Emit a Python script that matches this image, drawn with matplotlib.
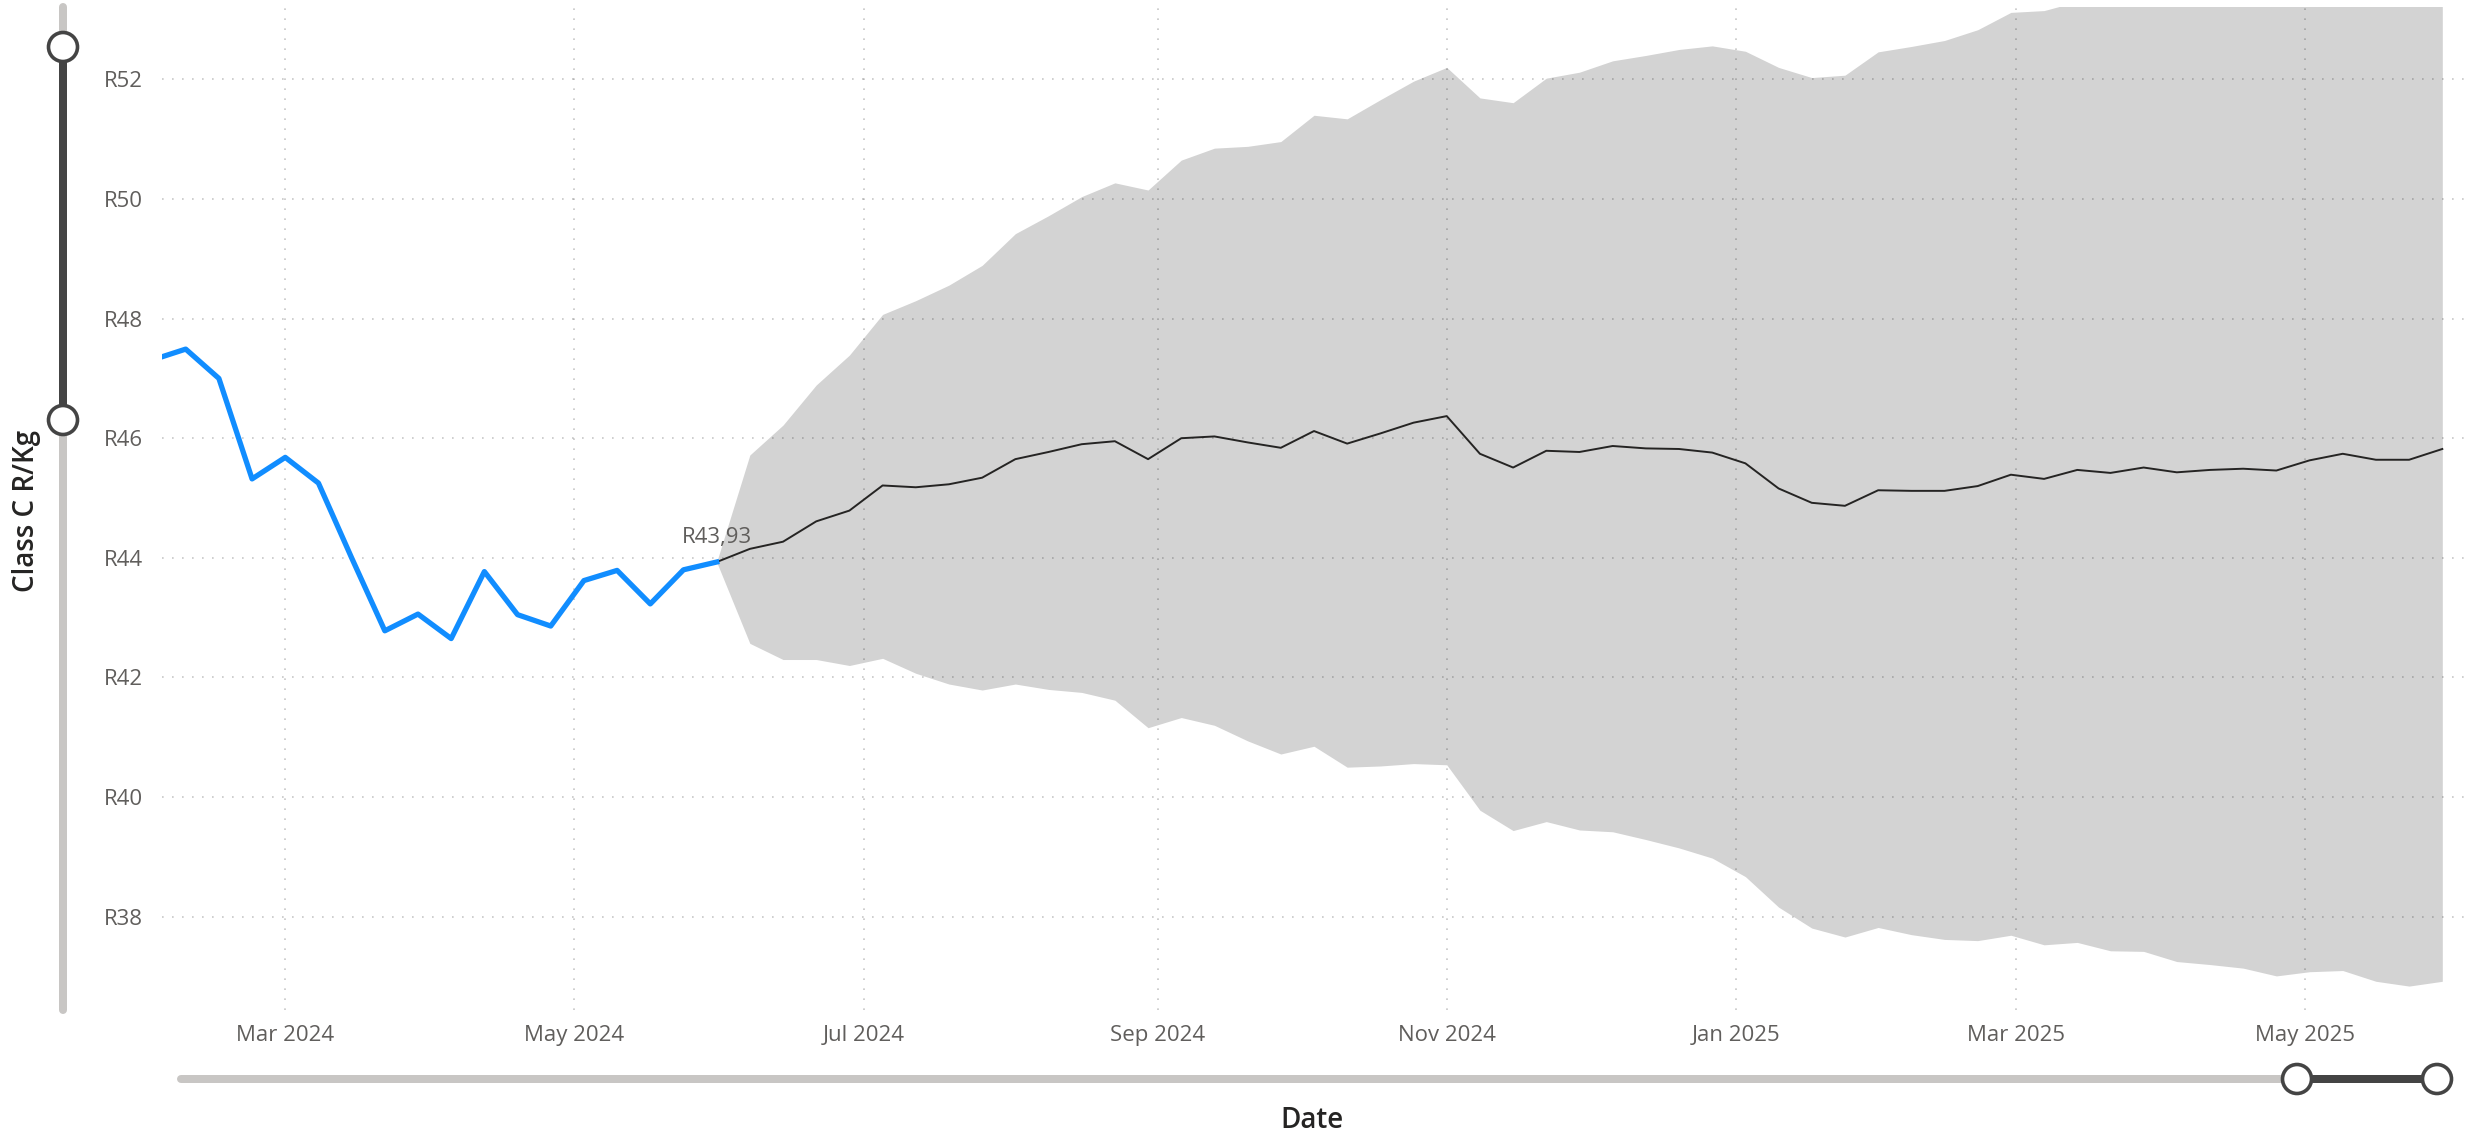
import numpy as np
import pandas as pd
import matplotlib
matplotlib.use("Agg")
import matplotlib.pyplot as plt
from matplotlib.patches import Circle

plt.rcParams['font.family'] = ['Open Sans', 'DejaVu Sans']

# weekly actual price, Class C R/Kg
actual_start = "2024-02-02"
actual = [47.31, 47.49, 47.00, 45.32, 45.68, 45.25, 44.00, 42.78, 43.06, 42.65,
          43.77, 43.05, 42.86, 43.62, 43.79, 43.23, 43.80, 43.93]

# weekly forecast with confidence band
forecast_start = "2024-05-31"
forecast = [43.93, 44.15, 44.27, 44.61, 44.79, 45.21, 45.18, 45.23, 45.34, 45.65,
            45.77, 45.90, 45.95, 45.65, 46.00, 46.03, 45.93, 45.84, 46.12, 45.91,
            46.08, 46.26, 46.37, 45.74, 45.51, 45.79, 45.77, 45.87, 45.83, 45.82,
            45.76, 45.58, 45.16, 44.92, 44.87, 45.13, 45.12, 45.12, 45.20, 45.39,
            45.32, 45.47, 45.42, 45.51, 45.43, 45.47, 45.49, 45.46, 45.63, 45.74,
            45.64, 45.64, 45.82]
upper = [43.93, 45.72, 46.22, 46.89, 47.39, 48.07, 48.30, 48.56, 48.89, 49.42,
         49.72, 50.04, 50.27, 50.15, 50.65, 50.85, 50.88, 50.96, 51.40, 51.34,
         51.66, 51.97, 52.20, 51.69, 51.61, 52.02, 52.12, 52.31, 52.40, 52.50,
         52.56, 52.47, 52.20, 52.03, 52.07, 52.46, 52.55, 52.65, 52.83, 53.12,
         53.15, 53.30, 53.38, 53.45, 53.50, 53.58, 53.62, 53.70, 53.76, 53.82,
         53.90, 53.96, 54.02]
lower = [43.93, 42.57, 42.30, 42.30, 42.20, 42.32, 42.07, 41.89, 41.79, 41.89,
         41.80, 41.75, 41.62, 41.16, 41.33, 41.20, 40.94, 40.72, 40.85, 40.50,
         40.52, 40.56, 40.54, 39.78, 39.44, 39.59, 39.45, 39.42, 39.29, 39.15,
         38.98, 38.67, 38.16, 37.81, 37.66, 37.82, 37.70, 37.62, 37.60, 37.69,
         37.53, 37.57, 37.43, 37.42, 37.25, 37.20, 37.14, 37.01, 37.08, 37.10,
         36.92, 36.84, 36.92]

x_ticks = ["2024-03-01", "2024-05-01", "2024-07-01", "2024-09-01",
           "2024-11-01", "2025-01-01", "2025-03-01", "2025-05-01"]
y_ticks = [38, 40, 42, 44, 46, 48, 50, 52]

actual_dates = pd.date_range(actual_start, periods=len(actual), freq="7D")
fc_dates = pd.date_range(forecast_start, periods=len(forecast), freq="7D")

W, H = 2471, 1134
fig = plt.figure(figsize=(W / 100, H / 100), dpi=100)
ax = fig.add_axes([162 / W, 1 - 1010 / H, (2466 - 162) / W, (1010 - 7) / H])

ax.fill_between(fc_dates, lower, upper, color="#D3D3D3", lw=0, zorder=0.2)
ax.plot(fc_dates, forecast, color="#252423", lw=1.4, zorder=2)
ax.plot(actual_dates, actual, color="#118DFF", lw=3.8,
        solid_joinstyle="round", zorder=3)
ax.annotate(f"R{actual[-1]:.2f}".replace(".", ","), (actual_dates[-1], actual[-1]),
            xytext=(0, 10), textcoords="offset points", ha="center", va="bottom",
            fontsize=16, color="#605E5C")

ax.set_xlim(pd.Timestamp("2024-02-04"), pd.Timestamp("2025-06-04"))
ax.set_ylim(36.44, 53.21)
ax.set_xticks(pd.to_datetime(x_ticks))
ax.set_xticklabels([pd.Timestamp(d).strftime("%b %Y") for d in x_ticks])
ax.set_yticks(y_ticks)
ax.set_yticklabels([f"R{v}" for v in y_ticks])
ax.tick_params(length=0, labelsize=16, labelcolor="#605E5C")
ax.tick_params(axis="x", pad=11)
ax.tick_params(axis="y", pad=14)
for s in ax.spines.values():
    s.set_visible(False)
ax.set_axisbelow(True)
ax.grid(True, color="black", alpha=0.22, lw=1.2, linestyle=(0, (1, 5)))

fig.text(27 / W, 1 - 511 / H, "Class C R/Kg", rotation=90, ha="center", va="center",
         fontsize=20, fontweight="semibold", color="#252423")
fig.text(1312 / W, 1 - 1121 / H, "Date", ha="center", va="center",
         fontsize=20, fontweight="semibold", color="#252423")

# zoom sliders (pixel coordinates)
ov = fig.add_axes([0, 0, 1, 1], zorder=5)
ov.set_xlim(0, W)
ov.set_ylim(H, 0)
ov.axis("off")
bar_lw = 8 / 1.389
ov.plot([63, 63], [7, 1010], color="#C8C6C4", lw=bar_lw, solid_capstyle="round", zorder=1)
ov.plot([63, 63], [47, 420], color="#444444", lw=bar_lw, solid_capstyle="butt", zorder=1)
ov.plot([181, 2437], [1079, 1079], color="#C8C6C4", lw=bar_lw, solid_capstyle="round", zorder=1)
ov.plot([2297, 2437], [1079, 1079], color="#444444", lw=bar_lw, solid_capstyle="butt", zorder=1)
for cx, cy in [(63, 47), (63, 420), (2297, 1079), (2437, 1079)]:
    ov.add_patch(Circle((cx, cy), 14.5, fc="white", ec="#444444", lw=2.6, zorder=3))

fig.savefig("out.png", dpi=100)
